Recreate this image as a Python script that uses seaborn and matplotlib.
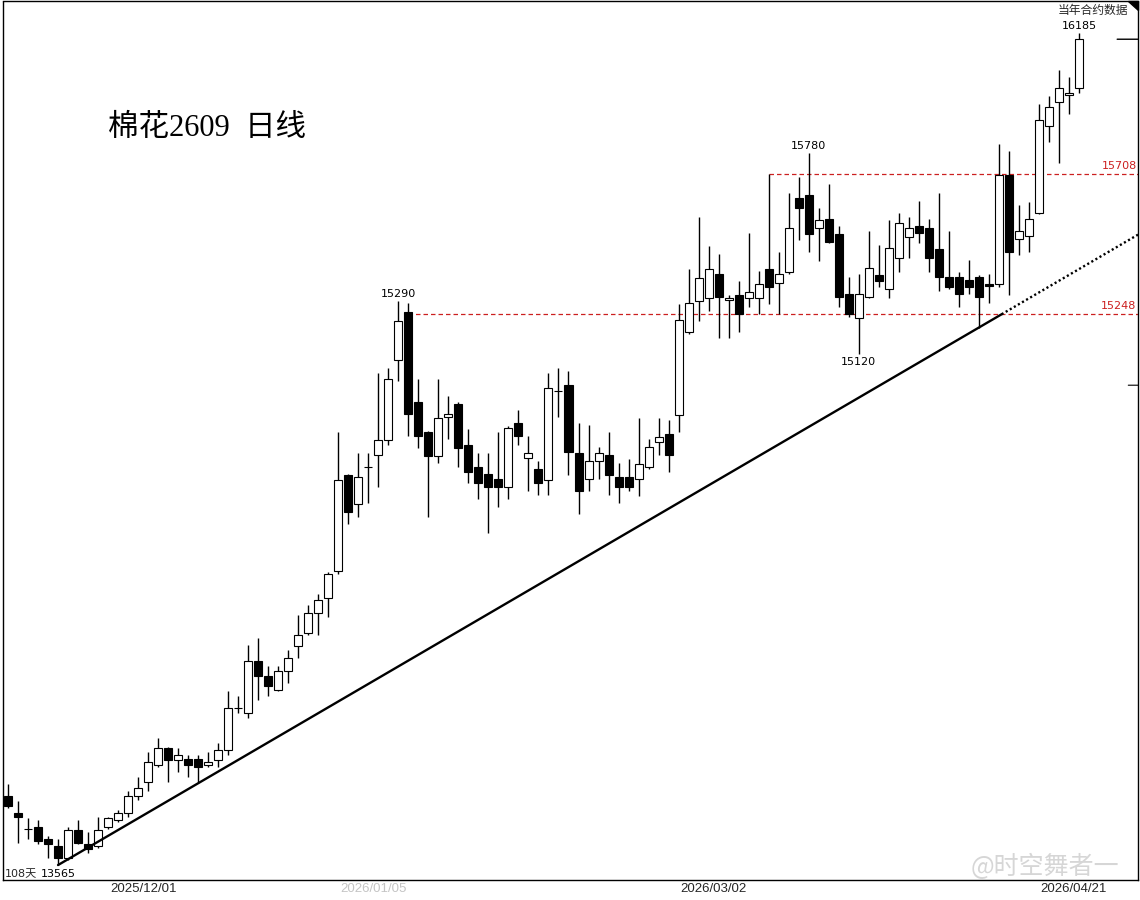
import numpy as np
import pandas as pd
import matplotlib
matplotlib.use("Agg")
import matplotlib.pyplot as plt
from matplotlib.patches import Polygon
import seaborn as sns

# ---------------- data ----------------
opens = [13765, 13715, 13670, 13675, 13640, 13620, 13585, 13665, 13625, 13620,
         13675, 13695, 13715, 13765, 13805, 13855, 13905, 13870, 13875, 13875,
         13855, 13870, 13900, 14025, 14010, 14165, 14120, 14080, 14135, 14210,
         14250, 14310, 14355, 14440, 14735, 14645, 14760, 14800, 14845, 15100,
         15255, 14965, 14870, 14795, 14920, 14960, 14830, 14760, 14740, 14725,
         14700, 14900, 14790, 14755, 14720, 15000, 15020, 14805, 14725, 14780,
         14800, 14730, 14730, 14725, 14760, 14840, 14865, 14925, 15190, 15290,
         15300, 15380, 15295, 15310, 15300, 15300, 15395, 15350, 15385, 15630,
         15640, 15530, 15560, 15510, 15315, 15235, 15305, 15375, 15330, 15430,
         15500, 15535, 15530, 15460, 15370, 15370, 15360, 15370, 15345, 15345,
         15705, 15495, 15505, 15580, 15870, 15950, 15975, 16000]
closes = [13735, 13705, 13670, 13635, 13625, 13585, 13665, 13630, 13610, 13665,
          13700, 13715, 13765, 13790, 13865, 13905, 13870, 13885, 13855, 13850,
          13865, 13900, 14025, 14025, 14165, 14120, 14090, 14135, 14175, 14245,
          14310, 14350, 14430, 14720, 14620, 14730, 14760, 14845, 15040, 15225,
          14930, 14860, 14795, 14915, 14930, 14820, 14745, 14710, 14700, 14700,
          14885, 14860, 14805, 14710, 15010, 15000, 14810, 14685, 14780, 14805,
          14735, 14700, 14700, 14770, 14825, 14855, 14800, 15230, 15285, 15365,
          15395, 15305, 15300, 15250, 15320, 15345, 15335, 15380, 15530, 15595,
          15510, 15555, 15485, 15305, 15250, 15315, 15400, 15355, 15465, 15545,
          15530, 15515, 15430, 15370, 15335, 15315, 15335, 15305, 15340, 15705,
          15450, 15520, 15560, 15890, 15935, 16000, 15980, 16165]
highs = [13800, 13750, 13700, 13695, 13650, 13640, 13675, 13695, 13660, 13705,
         13705, 13725, 13780, 13820, 13895, 13935, 13910, 13905, 13885, 13885,
         13895, 13920, 14075, 14060, 14215, 14235, 14150, 14150, 14200, 14305,
         14335, 14370, 14435, 14870, 14740, 14805, 14805, 15060, 15075, 15290,
         15285, 15040, 14875, 15040, 14985, 14965, 14880, 14805, 14805, 14870,
         14890, 14940, 14860, 14780, 15060, 15075, 15065, 14900, 14895, 14825,
         14870, 14775, 14785, 14915, 14850, 14915, 14910, 15280, 15395, 15565,
         15470, 15445, 15310, 15355, 15515, 15390, 15708, 15450, 15645, 15700,
         15780, 15595, 15675, 15535, 15370, 15380, 15520, 15475, 15555, 15580,
         15565, 15620, 15560, 15645, 15520, 15385, 15425, 15375, 15380, 15810,
         15785, 15605, 15615, 15945, 15970, 16060, 16035, 16185]
lows = [13730, 13630, 13640, 13625, 13585, 13565, 13580, 13625, 13600, 13615,
        13670, 13690, 13705, 13755, 13780, 13850, 13805, 13835, 13820, 13805,
        13850, 13850, 13885, 14010, 13995, 14050, 14060, 14075, 14100, 14175,
        14245, 14245, 14300, 14430, 14585, 14605, 14650, 14700, 14830, 15035,
        14860, 14820, 14605, 14775, 14850, 14760, 14710, 14660, 14555, 14635,
        14660, 14830, 14685, 14675, 14675, 14920, 14735, 14615, 14685, 14725,
        14675, 14650, 14685, 14670, 14755, 14800, 14745, 14870, 15185, 15225,
        15260, 15170, 15170, 15190, 15270, 15250, 15280, 15250, 15380, 15490,
        15450, 15420, 15480, 15270, 15240, 15120, 15300, 15335, 15300, 15385,
        15430, 15480, 15385, 15325, 15330, 15270, 15315, 15205, 15285, 15335,
        15310, 15440, 15450, 15575, 15815, 15745, 15910, 15980]

date_labels = ["2025/12/01", "2026/01/05", "2026/03/02", "2026/04/21"]
date_idx = [13, 36, 70, 106]

level_values = [15248, 15708]
level_start_idx = [40, 76]

trend_idx = [5, 97]
trend_vals = [13565, 15205]

high_marks = [107, 80, 39]
low_marks = [85, 5]

right_marks = [15020]   # short scale tick on the right border

title_text = "棉花2609  日线"
corner_text = "当年合约数据"
days_text = "108天"
watermark = "@时空舞者一"

# ---------------- styling ----------------
sns.set_theme(style="white")
plt.rcParams['font.family'] = ['DejaVu Sans', 'Noto Sans CJK SC']
plt.rcParams['axes.edgecolor'] = 'black'

RED = '#cc2020'
W, H = 1140, 900
fig = plt.figure(figsize=(W / 100, H / 100), dpi=100)
fig.patch.set_facecolor('white')
ax = fig.add_axes([3 / W, 20 / H, 1135 / W, 878.5 / H])
ax.set_facecolor('white')
ax.set_yscale('log')

df = pd.DataFrame(dict(idx=np.arange(len(opens)), open=opens, high=highs,
                       low=lows, close=closes))
df['up'] = df['close'] >= df['open']

# wicks
ax.vlines(df['idx'], df['low'], df['high'], color='black', lw=1.0, zorder=2)
# bodies
bottoms = np.minimum(df['open'], df['close'])
heights = (df['close'] - df['open']).abs()
colors = np.where(df['up'], 'white', 'black')
ax.bar(df['idx'], heights, bottom=bottoms, width=0.8, color=colors,
       edgecolor='black', linewidth=0.8, zorder=3)

# trend line (straight in log space) through the two lows
x_right = 112.9
k = (np.log(trend_vals[1]) - np.log(trend_vals[0])) / (trend_idx[1] - trend_idx[0])
x_cross = trend_idx[0] + np.log(level_values[0] / trend_vals[0]) / k
def trend(x):
    return trend_vals[0] * np.exp(k * (np.asarray(x, dtype=float) - trend_idx[0]))
solid = pd.DataFrame({'x': [trend_idx[0], x_cross]})
solid['y'] = trend(solid['x'])
dotted = pd.DataFrame({'x': [x_cross, x_right]})
dotted['y'] = trend(dotted['x'])
sns.lineplot(data=solid, x='x', y='y', color='black', lw=1.7, ax=ax,
             estimator=None, sort=False, legend=False, zorder=4)
ax.plot(dotted['x'], dotted['y'], color='black', lw=1.7,
        linestyle=(0, (0.9, 1.1)), zorder=4)

# horizontal levels
for val, start in zip(level_values, level_start_idx):
    ax.hlines(val, start, x_right, color=RED, lw=0.9,
              linestyles=[(0, (3.6, 2.4))], zorder=1)
    ax.annotate(str(val), xy=(1, val), xycoords=('axes fraction', 'data'),
                xytext=(-1, 2.5), textcoords='offset points', ha='right',
                va='bottom', color=RED, fontsize=8)

# last price marker on the right border
ax.annotate('', xy=(1, closes[-1]), xycoords=('axes fraction', 'data'),
            xytext=(-15, 0), textcoords='offset points',
            arrowprops=dict(arrowstyle='-', color='black', lw=1.0,
                            shrinkA=0, shrinkB=0))
for v in right_marks:
    ax.annotate('', xy=(1, v), xycoords=('axes fraction', 'data'),
                xytext=(-7, 0), textcoords='offset points',
                arrowprops=dict(arrowstyle='-', color='black', lw=0.8,
                                shrinkA=0, shrinkB=0))

# price marks
for i in high_marks:
    ax.annotate(str(highs[i]), xy=(i, highs[i]), xytext=(0, 1.5),
                textcoords='offset points', ha='center', va='bottom',
                fontsize=8, color='black')
for i in low_marks:
    ax.annotate(str(lows[i]), xy=(i, lows[i]), xytext=(0, -2.5),
                textcoords='offset points', ha='center', va='top',
                fontsize=8, color='black')

ax.set_xlim(-0.5, x_right)
ax.set_ylim(13522, 16295)

# axes look
for s in ax.spines.values():
    s.set_visible(True)
    s.set_color('black')
    s.set_linewidth(1.0)
ax.set_yticks([])
ax.yaxis.set_minor_locator(matplotlib.ticker.NullLocator())
ax.set_xticks([i + 0.5 for i in date_idx])
ax.set_xticklabels(date_labels)
ax.tick_params(axis='x', length=0, pad=2.5, labelsize=9.5)
for lab in ax.get_xticklabels():
    lab.set_family(['Liberation Sans', 'DejaVu Sans'])
ax.get_xticklabels()[1].set_color('#c4c4c4')
ax.set_xlabel('')
ax.set_ylabel('')

# texts
ax.text((108 - 3) / 1135, (880 - 129) / 878.5, title_text, transform=ax.transAxes,
        ha='left', va='center', fontsize=22,
        family=['Liberation Serif', 'Noto Sans CJK SC'], color='black')
ax.text((1128 - 3) / 1135, (880 - 10) / 878.5, corner_text, transform=ax.transAxes,
        ha='right', va='center', fontsize=8.5, family=['Noto Sans CJK SC'])
ax.add_patch(Polygon([((1128 - 3) / 1135, 1.0), (1.0, 1.0), (1.0, (880 - 10) / 878.5)],
                     closed=True, transform=ax.transAxes, color='black', zorder=5,
                     clip_on=False))
ax.text(1.5 / 1135, (880 - 874) / 878.5, days_text, transform=ax.transAxes,
        ha='left', va='center', fontsize=8,
        family=['DejaVu Sans', 'Noto Sans CJK SC'])

fig.text(1045 / W, 1 - 867 / H, watermark, ha='center', va='center', fontsize=18,
         color='#cfcfcf', alpha=0.85, family=['Noto Sans CJK SC', 'DejaVu Sans'],
         zorder=10)

fig.savefig('out.png', dpi=100, facecolor='white')
